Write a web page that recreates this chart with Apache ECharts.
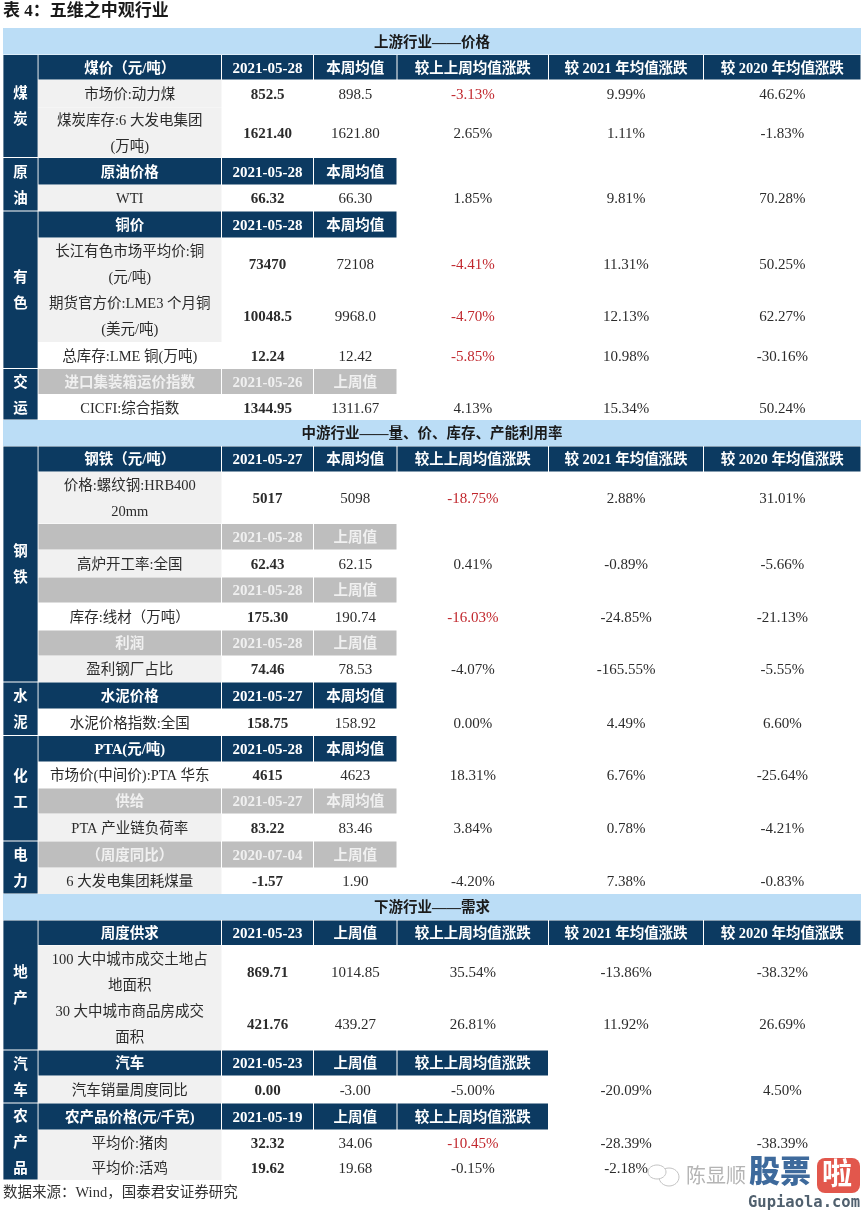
<!DOCTYPE html>
<html>
<head>
<meta charset="utf-8">
<title>五维之中观行业</title>
<script src="https://cdn.jsdelivr.net/npm/echarts@6/dist/echarts.min.js"></script>
<style>
  html, body { margin: 0; padding: 0; background: #fff; }
  #main { width: 864px; height: 1214px; }
</style>
</head>
<body>
<div id="main"></div>
<script>
// 表格数据：每个数组按行对齐
var rowKinds = ["sec","head","data","data","head","data","head","data","data","data","gray","data",
  "sec","head","data","gray","data","gray","data","gray","data","head","data","head","data","gray","data","gray","data",
  "sec","head","data","data","head","data","head","data","data"];
var rowLabels = ["上游行业——价格","煤价（元/吨）","市场价:动力煤","煤炭库存:6 大发电集团\n(万吨)","原油价格","WTI","铜价",
  "长江有色市场平均价:铜\n(元/吨)","期货官方价:LME3 个月铜\n(美元/吨)","总库存:LME 铜(万吨)","进口集装箱运价指数","CICFI:综合指数",
  "中游行业——量、价、库存、产能利用率","钢铁（元/吨）","价格:螺纹钢:HRB400\n20mm","","高炉开工率:全国","","库存:线材（万吨）","利润","盈利钢厂占比",
  "水泥价格","水泥价格指数:全国","PTA(元/吨)","市场价(中间价):PTA 华东","供给","PTA 产业链负荷率","（周度同比）","6 大发电集团耗煤量",
  "下游行业——需求","周度供求","100 大中城市成交土地占\n地面积","30 大中城市商品房成交\n面积","汽车","汽车销量周度同比","农产品价格(元/千克)","平均价:猪肉","平均价:活鸡"];
var latestVals = ["","2021-05-28","852.5","1621.40","2021-05-28","66.32","2021-05-28","73470","10048.5","12.24","2021-05-26","1344.95",
  "","2021-05-27","5017","2021-05-28","62.43","2021-05-28","175.30","2021-05-28","74.46","2021-05-27","158.75","2021-05-28","4615","2021-05-27","83.22","2020-07-04","-1.57",
  "","2021-05-23","869.71","421.76","2021-05-23","0.00","2021-05-19","32.32","19.62"];
var priorVals = ["","本周均值","898.5","1621.80","本周均值","66.30","本周均值","72108","9968.0","12.42","上周值","1311.67",
  "","本周均值","5098","上周值","62.15","上周值","190.74","上周值","78.53","本周均值","158.92","本周均值","4623","本周均值","83.46","上周值","1.90",
  "","上周值","1014.85","439.27","上周值","-3.00","上周值","34.06","19.68"];
var chgPrevWeek = ["","较上上周均值涨跌","-3.13%","2.65%","","1.85%","","-4.41%","-4.70%","-5.85%","","4.13%",
  "","较上上周均值涨跌","-18.75%","","0.41%","","-16.03%","","-4.07%","","0.00%","","18.31%","","3.84%","","-4.20%",
  "","较上上周均值涨跌","35.54%","26.81%","较上上周均值涨跌","-5.00%","较上上周均值涨跌","-10.45%","-0.15%"];
var chg2021 = ["","较 2021 年均值涨跌","9.99%","1.11%","","9.81%","","11.31%","12.13%","10.98%","","15.34%",
  "","较 2021 年均值涨跌","2.88%","","-0.89%","","-24.85%","","-165.55%","","4.49%","","6.76%","","0.78%","","7.38%",
  "","较 2021 年均值涨跌","-13.86%","11.92%","","-20.09%","","-28.39%","-2.18%"];
var chg2020 = ["","较 2020 年均值涨跌","46.62%","-1.83%","","70.28%","","50.25%","62.27%","-30.16%","","50.24%",
  "","较 2020 年均值涨跌","31.01%","","-5.66%","","-21.13%","","-5.55%","","6.60%","","-25.64%","","-4.21%","","-0.83%",
  "","较 2020 年均值涨跌","-38.32%","26.69%","","4.50%","","-38.39%",""];
var redRows = [2, 7, 8, 9, 14, 18, 36];
var shadedRows = [2, 3, 5, 7, 8, 14, 16, 20, 26, 28, 31, 32, 34, 36, 37];
// 左侧合并单元格：名称、起始行、结束行
var sideNames = ["煤\n炭","原\n油","有\n色","交\n运","钢\n铁","水\n泥","化\n工","电\n力","地\n产","汽\n车","农\n产\n品"];
var sideFrom = [1, 4, 6, 10, 13, 21, 23, 27, 30, 33, 35];
var sideTo = [3, 5, 9, 11, 20, 22, 26, 28, 32, 34, 37];

// 版式
var colEdges = [3, 38, 221.5, 313.5, 397, 548.5, 703.5, 861];
var rowEdges = [28, 54.5, 80, 107.5, 157.5, 185, 211, 238, 290, 342, 368.5, 394.5, 420,
  446, 472, 523.5, 550, 577, 603, 630, 656, 682, 709, 735.5, 762, 788, 814, 841, 868, 894,
  920, 945.5, 998, 1050, 1076, 1103, 1130, 1155, 1180];
var NAVY = "#0C3A61", GRAY = "#BEBEBE", BAND = "#BBDDF6", SHADE = "#F1F1F1", RED = "#C1272D", INK = "#2B2B2B";
var FONT = "'Liberation Serif','Noto Sans CJK SC'";

var columns = [rowLabels, latestVals, priorVals, chgPrevWeek, chg2021, chg2020];
var cells = [];

function addCell(c0, c1, r0, r1, text, fill, color, bold, gap) {
  cells.push({ value: [colEdges[c0], rowEdges[r0], colEdges[c1], rowEdges[r1]], text: text, fill: fill, color: color, bold: bold, gap: gap });
}

rowKinds.forEach(function (kind, r) {
  if (kind === "sec") {
    addCell(0, 7, r, r + 1, rowLabels[r], BAND, "#1a1a1a", true, 0);
    return;
  }
  columns.forEach(function (col, c) {
    var text = col[r];
    if (kind === "data") {
      var fill = c === 0 && shadedRows.indexOf(r) >= 0 ? SHADE : null;
      var color = c === 3 && redRows.indexOf(r) >= 0 ? RED : INK;
      addCell(c + 1, c + 2, r, r + 1, text, fill, color, c === 1, 0);
    } else if (text !== "" || c < 3) {
      // 表头行：有些行只到本周均值那一列
      addCell(c + 1, c + 2, r, r + 1, text, kind === "head" ? NAVY : GRAY, kind === "head" ? "#fff" : "#f0f0f0", true, 0.5);
    }
  });
});
sideNames.forEach(function (name, i) {
  addCell(0, 1, sideFrom[i], sideTo[i] + 1, name, NAVY, "#fff", true, 0.4);
});

function renderCell(params, api) {
  var item = cells[params.dataIndex];
  var p0 = api.coord([api.value(0), api.value(1)]);
  var p1 = api.coord([api.value(2), api.value(3)]);
  var g = item.gap;
  var kids = [];
  if (item.fill) {
    kids.push({
      type: "rect",
      shape: { x: p0[0] + g, y: p0[1] + g, width: p1[0] - p0[0] - 2 * g, height: p1[1] - p0[1] - 2 * g },
      style: { fill: item.fill }
    });
  }
  if (item.text) {
    // 纯数字稍大一点，和中文宽度对得上
    var size = /^[-\d.%]+$/.test(item.text) ? 15 : 14.5;
    kids.push({
      type: "text",
      x: (p0[0] + p1[0]) / 2,
      y: (p0[1] + p1[1]) / 2 + 1.5,
      style: {
        text: item.text,
        align: "center",
        verticalAlign: "middle",
        fill: item.color,
        font: (item.bold ? "bold " : "") + size + "px " + FONT,
        lineHeight: 26
      }
    });
  }
  return { type: "group", children: kids };
}

var myChart = echarts.init(document.getElementById("main"));

var option = {
  animation: false,
  backgroundColor: "#fff",
  title: {
    text: "表 4：五维之中观行业",
    left: 3,
    top: 3,
    padding: 0,
    textStyle: { fontSize: 17, fontWeight: "bold", color: "#1a1a1a", fontFamily: FONT }
  },
  grid: { left: 0, right: 0, top: 0, bottom: 0 },
  xAxis: { type: "value", min: 0, max: 864, show: false },
  yAxis: { type: "value", min: 0, max: 1214, inverse: true, show: false },
  series: [
    {
      name: "五维之中观行业",
      type: "custom",
      silent: true,
      clip: false,
      renderItem: renderCell,
      encode: { x: [0, 2], y: [1, 3] },
      data: cells
    }
  ],
  graphic: [
    { type: "text", left: 3, top: 1186, style: { text: "数据来源：Wind，国泰君安证券研究", fill: "#333", font: "14.5px " + FONT } },
    // 右下角水印
    { type: "ellipse", shape: { cx: 669, cy: 1177, rx: 10, ry: 9 }, style: { fill: "#fff", stroke: "#c4c4c4", lineWidth: 1 }, z: 10 },
    { type: "ellipse", shape: { cx: 657, cy: 1172, rx: 9, ry: 7 }, style: { fill: "#fff", stroke: "#c4c4c4", lineWidth: 1 }, z: 11 },
    { type: "text", left: 686, top: 1165, z: 10, style: { text: "陈显顺", fill: "#b4b4b4", font: "20px 'Noto Sans CJK SC'" } },
    { type: "text", left: 749, top: 1155, z: 11, style: { text: "股票", fill: "#3E6A9C", font: "900 31px 'Noto Sans CJK SC'" } },
    { type: "rect", shape: { x: 817, y: 1158, width: 43, height: 35, r: 8 }, style: { fill: "#E2574C" }, z: 10 },
    { type: "text", left: 822, top: 1158, z: 11, style: { text: "啦", fill: "#fff", font: "bold 30px 'Noto Sans CJK SC'" } },
    { type: "text", left: 748, top: 1195, z: 10, style: { text: "Gupiaola.com", fill: "#50606e", font: "bold 15.5px 'DejaVu Sans Mono'" } }
  ]
};

myChart.setOption(option);
</script>
</body>
</html>
